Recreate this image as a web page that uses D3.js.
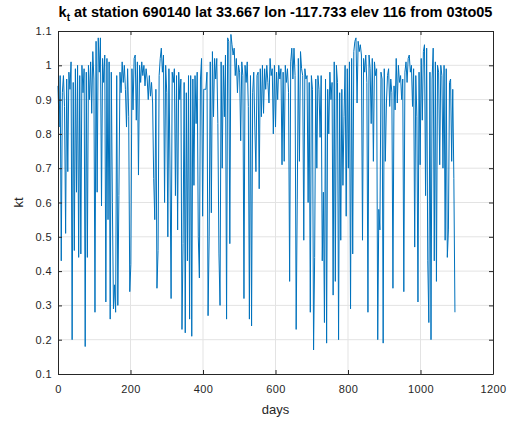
<!DOCTYPE html>
<html>
<head>
<meta charset="utf-8">
<script src="https://cdn.jsdelivr.net/npm/d3@7"></script>
<style>
  body { margin: 0; background: #fff; }
  svg { font-family: "Liberation Sans", Arial, Helvetica, sans-serif; }
  .tick text { fill: #262626; font-size: 11px; letter-spacing: 0.4px; }
  .title { font-weight: bold; font-size: 14.5px; fill: #000; }
  .axis-label { font-size: 13px; fill: #262626; }
</style>
</head>
<body>
<svg id="chart" width="511" height="421"></svg>
<script>
// DATA: clearness index, one value every 3 days (2003-2005)
const dayStep = 3;
const kt = [
  0.94, 0.82, 0.97, 0.43, 0.92, 0.97, 0.88, 0.51, 0.96, 0.69,
  0.98, 0.93, 1.01, 0.20, 0.95, 0.46, 0.99, 0.63, 1.00, 0.44,
  0.97, 0.45, 1.00, 0.92, 0.99, 0.18, 0.98, 0.44, 1.00, 0.90,
  1.01, 0.86, 1.04, 0.96, 0.28, 1.07, 0.63, 1.08, 0.98, 1.08,
  0.59, 1.02, 0.95, 1.03, 0.31, 1.02, 0.55, 1.01, 0.26, 0.98,
  0.60, 0.29, 0.36, 0.28, 0.97, 0.30, 0.62, 0.98, 0.92, 1.01,
  0.95, 1.00, 0.93, 0.82, 0.99, 0.85, 0.34, 0.42, 0.99, 0.87,
  1.02, 1.03, 0.84, 1.01, 0.68, 1.00, 0.95, 1.01, 0.97, 1.00,
  0.94, 0.99, 0.96, 0.90, 0.97, 0.91, 0.95, 0.89, 0.67, 0.55,
  0.93, 0.35, 0.46, 0.97, 1.02, 1.05, 0.98, 1.03, 0.60, 1.00,
  0.92, 0.50, 0.99, 0.70, 0.32, 0.98, 0.95, 0.99, 0.62, 0.97,
  0.52, 0.98, 0.90, 0.96, 0.23, 0.48, 0.95, 0.22, 0.92, 0.43,
  0.97, 0.26, 0.97, 0.21, 0.96, 0.65, 0.97, 0.83, 0.98, 0.50,
  0.38, 0.96, 1.02, 0.56, 0.93, 0.93, 0.93, 0.98, 0.27, 0.50,
  1.01, 0.57, 1.04, 0.85, 1.02, 0.96, 1.02, 0.83, 0.45, 0.30,
  1.01, 0.70, 1.00, 0.85, 1.03, 0.26, 1.08, 1.07, 0.48, 1.09,
  1.06, 1.03, 1.05, 0.97, 1.02, 0.92, 1.00, 0.98, 0.78, 1.01,
  0.97, 0.32, 1.00, 0.95, 1.01, 0.88, 0.26, 0.97, 0.24, 0.92,
  0.98, 0.82, 0.69, 0.97, 0.98, 0.64, 0.99, 0.85, 1.00, 0.86,
  0.99, 0.93, 1.00, 0.95, 0.89, 1.02, 0.97, 0.99, 0.80, 1.00,
  0.82, 0.98, 0.90, 1.00, 0.96, 0.99, 0.71, 0.98, 0.72, 1.00,
  0.95, 0.99, 0.92, 0.37, 1.01, 1.05, 0.96, 1.05, 0.97, 0.23,
  0.61, 1.02, 0.72, 1.04, 0.99, 0.97, 0.49, 0.99, 0.96, 0.97,
  0.60, 0.95, 0.28, 0.97, 0.93, 0.17, 0.44, 0.96, 0.70, 0.97,
  0.93, 0.79, 0.97, 0.43, 0.63, 0.25, 0.96, 0.19, 0.93, 0.80,
  0.98, 0.90, 0.95, 0.33, 1.01, 0.37, 1.00, 0.95, 0.20, 0.92,
  0.49, 0.93, 0.65, 0.85, 1.00, 0.56, 0.99, 0.70, 1.01, 0.29,
  1.02, 0.45, 1.04, 1.07, 1.08, 0.89, 1.07, 1.04, 1.06, 1.03,
  0.49, 1.02, 0.98, 1.03, 0.95, 0.28, 1.03, 0.99, 0.83, 1.02,
  0.72, 1.01, 0.97, 0.99, 0.20, 0.58, 0.52, 0.98, 0.96, 0.19,
  0.99, 0.72, 0.89, 0.97, 0.99, 0.88, 0.96, 0.92, 0.35, 0.94,
  0.87, 1.02, 0.89, 1.00, 0.95, 0.97, 0.90, 0.96, 0.34, 0.98,
  1.01, 0.95, 1.02, 1.03, 0.98, 1.00, 0.88, 0.99, 0.47, 0.97,
  0.85, 0.31, 0.98, 0.71, 1.02, 0.84, 1.04, 1.06, 0.62, 1.05,
  0.43, 0.25, 0.98, 0.20, 0.96, 1.05, 0.43, 1.01, 0.37, 1.00,
  0.98, 0.71, 1.00, 0.97, 0.70, 1.00, 0.49, 0.99, 0.44, 0.52,
  0.95, 0.96, 0.72, 0.93, 0.67, 0.28
];
const xTicks = [0, 200, 400, 600, 800, 1000, 1200];
const yTicks = [0.1, 0.2, 0.3, 0.4, 0.5, 0.6, 0.7, 0.8, 0.9, 1.0, 1.1];

const series = kt.map((v, i) => ({ day: i * dayStep, kt: v }));

// SETUP
const margin = { top: 31, right: 18, bottom: 47, left: 58 },
    width = 511 - margin.left - margin.right,
    height = 421 - margin.top - margin.bottom;

const svg = d3.select("#chart")
    .append("g")
    .attr("transform", `translate(${margin.left},${margin.top})`);

const x = d3.scaleLinear().domain([0, 1200]).range([0, width]);
const y = d3.scaleLinear().domain([0.1, 1.1]).range([height, 0]);

// grid
svg.append("g")
    .selectAll("line")
    .data(xTicks.slice(1, -1))
    .join("line")
    .attr("x1", d => x(d)).attr("x2", d => x(d))
    .attr("y1", 0).attr("y2", height)
    .attr("stroke", "#e3e3e3");

svg.append("g")
    .selectAll("line")
    .data(yTicks.slice(1, -1))
    .join("line")
    .attr("x1", 0).attr("x2", width)
    .attr("y1", d => y(d)).attr("y2", d => y(d))
    .attr("stroke", "#e3e3e3");

// line
const line = d3.line()
    .x(d => x(d.day))
    .y(d => y(d.kt));

svg.append("path")
    .datum(series)
    .attr("d", line)
    .attr("fill", "none")
    .attr("stroke", "#0072BD")
    .attr("stroke-width", 1)
    .attr("stroke-linejoin", "round");

// axes (inward ticks, box all round)
const styleAxis = g => {
    g.select(".domain").attr("stroke", "#262626");
    g.selectAll(".tick line").attr("stroke", "#262626");
};

svg.append("g")
    .attr("transform", `translate(0,${height})`)
    .call(d3.axisBottom(x).tickValues(xTicks).tickFormat(d3.format("d"))
        .tickSizeInner(-4).tickSizeOuter(0).tickPadding(11))
    .call(styleAxis);

svg.append("g")
    .call(d3.axisTop(x).tickValues(xTicks).tickSizeInner(-4).tickSizeOuter(0).tickFormat(""))
    .call(styleAxis);

svg.append("g")
    .call(d3.axisLeft(y).tickValues(yTicks).tickFormat(d3.format("~g"))
        .tickSizeInner(-4).tickSizeOuter(0).tickPadding(6))
    .call(styleAxis);

svg.append("g")
    .attr("transform", `translate(${width},0)`)
    .call(d3.axisRight(y).tickValues(yTicks).tickSizeInner(-4).tickSizeOuter(0).tickFormat(""))
    .call(styleAxis);

// labels
const title = svg.append("text")
    .attr("class", "title")
    .attr("text-anchor", "middle")
    .attr("x", width / 2)
    .attr("y", -14);
title.append("tspan").text("k");
title.append("tspan").attr("dy", 4).attr("font-size", "10px").text("t");
title.append("tspan").attr("dy", -4).text(" at station 690140 lat 33.667 lon -117.733 elev 116 from 03to05");

svg.append("text")
    .attr("class", "axis-label")
    .attr("text-anchor", "middle")
    .attr("x", width / 2)
    .attr("y", height + 40)
    .text("days");

svg.append("text")
    .attr("class", "axis-label")
    .attr("text-anchor", "middle")
    .attr("transform", "rotate(-90)")
    .attr("x", -height / 2)
    .attr("y", -35)
    .text("kt");
</script>
</body>
</html>
